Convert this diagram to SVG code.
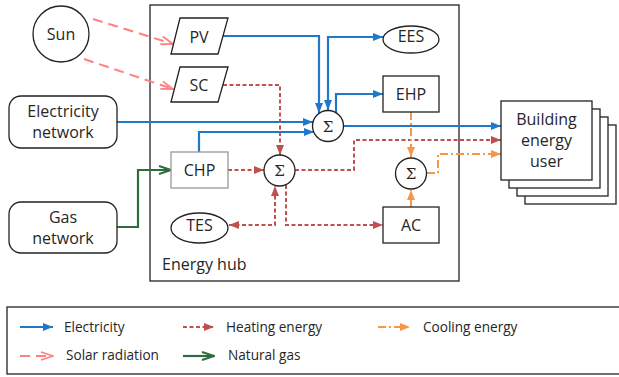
<svg xmlns="http://www.w3.org/2000/svg" width="619" height="377" viewBox="0 0 619 377">
<style>
text{font-family:"Open Sans","Noto Sans",sans-serif;fill:#262626}
.lbl{font-size:16px;text-anchor:middle}
.lg{font-size:13.6px}
.sig{font-family:"DejaVu Serif","Liberation Serif",serif;font-size:15px;text-anchor:middle}
.nd{fill:#fff;stroke:#222;stroke-width:1.3}
.el{fill:none;stroke:#1f78c8;stroke-width:2.2}
.ht{fill:none;stroke:#c0504d;stroke-width:2;stroke-dasharray:4 2.5}
.cl{fill:none;stroke:#f79646;stroke-width:2;stroke-dasharray:8 3 2 3}
.sr{fill:none;stroke:#ff8080;stroke-width:2;stroke-dasharray:10 6}
.gs{fill:none;stroke:#2e6e3e;stroke-width:2.2}
</style>
<defs>
<marker id="aB" markerUnits="userSpaceOnUse" viewBox="0 0 10 8" refX="10" refY="4" markerWidth="10" markerHeight="8" orient="auto-start-reverse"><path d="M0,0L10,4L0,8z" fill="#1f78c8"/></marker>
<marker id="aR" markerUnits="userSpaceOnUse" viewBox="0 0 10 8" refX="10" refY="4" markerWidth="10" markerHeight="8" orient="auto-start-reverse"><path d="M0,0L10,4L0,8z" fill="#c0504d"/></marker>
<marker id="aO" markerUnits="userSpaceOnUse" viewBox="0 0 10 8" refX="10" refY="4" markerWidth="10" markerHeight="8" orient="auto-start-reverse"><path d="M0,0L10,4L0,8z" fill="#f79646"/></marker>
<marker id="aS" markerUnits="userSpaceOnUse" viewBox="0 0 14 10" refX="13" refY="5" markerWidth="14" markerHeight="10" orient="auto"><path d="M1,1L13,5L1,9" fill="none" stroke="#ff8080" stroke-width="1.8"/></marker>
<marker id="aG" markerUnits="userSpaceOnUse" viewBox="0 0 14 10" refX="13" refY="5" markerWidth="14" markerHeight="10" orient="auto"><path d="M1,1L13,5L1,9" fill="none" stroke="#2e6e3e" stroke-width="2"/></marker>
</defs>
<rect x="0" y="0" width="619" height="377" fill="#fff"/>

<g id="hub">
<rect x="150" y="5" width="309" height="276" fill="none" stroke="#222" stroke-width="1.3"/>
<text x="162" y="270" style="font-size:16px">Energy hub</text>
</g>

<g id="connectors">
<path class="sr" d="M93,19L173,44" marker-end="url(#aS)"/>
<path class="sr" d="M84,59L173,89" marker-end="url(#aS)"/>
<path class="el" d="M223,36H319V113" marker-end="url(#aB)"/>
<path class="el" d="M328,110V37H383" marker-start="url(#aB)" marker-end="url(#aB)"/>
<path class="el" d="M336,113V94H383" marker-end="url(#aB)"/>
<path class="el" d="M117,122H313" marker-end="url(#aB)"/>
<path class="el" d="M199,152V132H314" marker-end="url(#aB)"/>
<path class="el" d="M344,126H501" marker-end="url(#aB)"/>
<path class="gs" d="M117,227H138V170H171" marker-end="url(#aG)"/>
<path class="ht" d="M228,170H264" marker-end="url(#aR)"/>
<path class="ht" d="M223,85H280V155" marker-end="url(#aR)"/>
<path class="ht" d="M295,170H354V140H501" marker-end="url(#aR)"/>
<path class="ht" d="M229,225H275V186" marker-start="url(#aR)" marker-end="url(#aR)"/>
<path class="ht" d="M286,185V225H383" marker-end="url(#aR)"/>
<path class="cl" d="M411,112V157" marker-end="url(#aO)"/>
<path class="cl" d="M411,207V190" marker-end="url(#aO)"/>
<path class="cl" d="M427,173H438V154H501" marker-end="url(#aO)"/>
</g>

<g id="sun"><circle class="nd" cx="61" cy="34" r="28"/><text class="lbl" x="61" y="39.5">Sun</text></g>
<g id="pv"><path class="nd" d="M180,18H228L218,54H171Z"/><text class="lbl" x="199" y="43">PV</text></g>
<g id="sc"><path class="nd" d="M180,67H228L218,102H171Z"/><text class="lbl" x="199" y="90.5">SC</text></g>
<g id="elecnet"><rect class="nd" x="9" y="96" width="108" height="52" rx="12"/><text class="lbl" x="63" y="116.5">Electricity</text><text class="lbl" x="63" y="138">network</text></g>
<g id="gasnet"><rect class="nd" x="9" y="202" width="108" height="51" rx="12"/><text class="lbl" x="63" y="222.5">Gas</text><text class="lbl" x="63" y="244">network</text></g>
<g id="chp"><rect x="171" y="152" width="57" height="36" fill="#fff" stroke="#999" stroke-width="1.3"/><text class="lbl" x="199.5" y="175.5">CHP</text></g>
<g id="tes"><ellipse class="nd" cx="199.5" cy="228" rx="28.5" ry="15"/><text class="lbl" x="199.5" y="231">TES</text></g>
<g id="ees"><ellipse class="nd" cx="411" cy="39.5" rx="28" ry="13.5"/><text class="lbl" x="411" y="42">EES</text></g>
<g id="ehp"><rect class="nd" x="383" y="76" width="56" height="36"/><text class="lbl" x="411" y="100">EHP</text></g>
<g id="ac"><rect class="nd" x="383" y="207" width="56" height="36"/><text class="lbl" x="411" y="231">AC</text></g>
<g id="sum1"><circle class="nd" cx="328" cy="126" r="15.5"/><text class="sig" x="328" y="131.5">Σ</text></g>
<g id="sum2"><circle class="nd" cx="279.5" cy="170.5" r="15.5"/><text class="sig" x="279.5" y="176">Σ</text></g>
<g id="sum3"><circle class="nd" cx="411" cy="173.5" r="15.5"/><text class="sig" x="411" y="179">Σ</text></g>
<g id="building">
<rect class="nd" x="525" y="125" width="91" height="79"/>
<rect class="nd" x="517" y="117" width="91" height="79"/>
<rect class="nd" x="509" y="109" width="91" height="79"/>
<rect class="nd" x="501" y="101" width="91" height="79"/>
<text class="lbl" x="546.5" y="125">Building</text>
<text class="lbl" x="546.5" y="146">energy</text>
<text class="lbl" x="546.5" y="167">user</text>
</g>

<g id="legend">
<rect x="7" y="307" width="620" height="67" fill="none" stroke="#222" stroke-width="1.3"/>
<path class="el" d="M20,327H53" marker-end="url(#aB)"/>
<text class="lg" x="64" y="332">Electricity</text>
<path class="ht" d="M183,327H214" marker-end="url(#aR)"/>
<text class="lg" x="226" y="332">Heating energy</text>
<path class="cl" d="M378,327H410" marker-end="url(#aO)"/>
<text class="lg" x="423" y="332">Cooling energy</text>
<path class="sr" d="M20,356H53" marker-end="url(#aS)"/>
<text class="lg" x="66" y="360">Solar radiation</text>
<path class="gs" d="M183,356H214" marker-end="url(#aG)"/>
<text class="lg" x="228" y="360">Natural gas</text>
</g>
</svg>
